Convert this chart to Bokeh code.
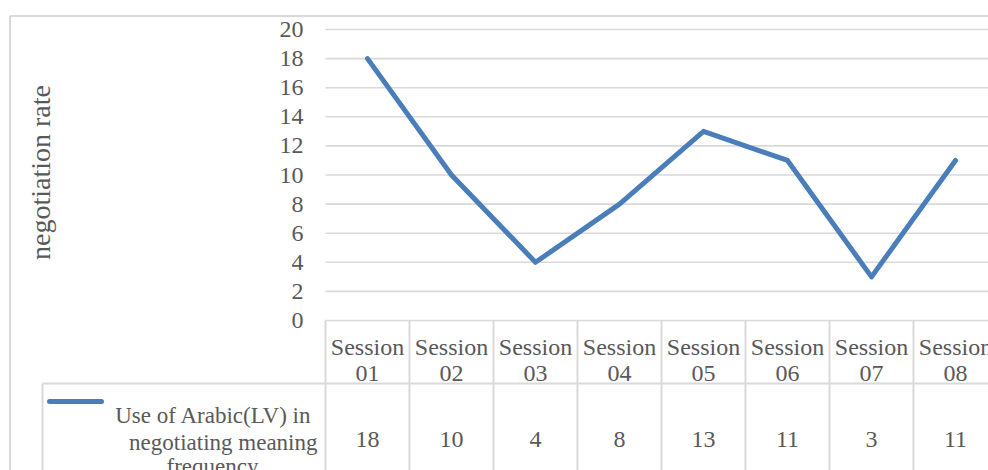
from bokeh.plotting import figure
from bokeh.models import Range1d
from bokeh.core.properties import value
from bokeh.embed import file_html
from bokeh.resources import INLINE

# ---------------- data ----------------
categories = ["Session 01", "Session 02", "Session 03", "Session 04",
              "Session 05", "Session 06", "Session 07", "Session 08"]
values = [18, 10, 4, 8, 13, 11, 3, 11]
y_ticks = [0, 2, 4, 6, 8, 10, 12, 14, 16, 18, 20]
series_label_lines = ["Use of Arabic(LV)  in", "negotiating meaning", "frequency"]
y_title = "negotiation rate"

# ---------------- layout helpers (page pixels -> data space) ----------------
W, H = 988, 470
X0, COL = 325.0, 84.0      # left edge of plot area / category width (page px)
Y0, UNIT = 320.0, 14.55    # baseline of value 0 / px per unit (page px)

def dx(px):
    return (px - X0) / COL

def dy(py):
    return (Y0 - py) / UNIT

FONT = value("Liberation Serif")
TXT = "#595959"
GRID = "#d9d9d9"
BLUE = "#4a7ebb"

p = figure(width=W, height=H, output_backend="svg", toolbar_location=None,
           x_range=Range1d(dx(0), dx(W)), y_range=Range1d(dy(H), dy(0)),
           x_axis_type=None, y_axis_type=None, min_border=0,
           outline_line_color=None, background_fill_color="white",
           border_fill_color="white")

# chart outer border (left + top visible)
p.segment(x0=[dx(9.5), dx(9.5)], y0=[dy(15.5), dy(15.5)],
          x1=[dx(9.5), dx(1000)], y1=[dy(480), dy(15.5)],
          line_color=GRID, line_width=2)

# horizontal gridlines
p.segment(x0=[dx(325)] * len(y_ticks), x1=[dx(1000)] * len(y_ticks),
          y0=y_ticks, y1=y_ticks, line_color=GRID, line_width=1.6)

# y tick labels
p.text(x=[dx(303)] * len(y_ticks), y=y_ticks, text=[str(t) for t in y_ticks],
       text_align="right", text_baseline="middle", text_font=FONT,
       text_font_size=value("24px"), text_color=TXT)

# y axis title
p.text(x=[dx(40)], y=[dy(172)], text=[y_title], angle=1.5707963,
       text_align="center", text_baseline="alphabetic", text_font=FONT,
       text_font_size=value("28px"), text_color=TXT)

# data table grid
n = len(categories)
vx = [dx(X0 + COL * k) for k in range(n + 1)]
p.segment(x0=vx, x1=vx, y0=[dy(320)] * (n + 1), y1=[dy(480)] * (n + 1),
          line_color=GRID, line_width=2)
p.segment(x0=[dx(42)], x1=[dx(1000)], y0=[dy(383)], y1=[dy(383)],
          line_color=GRID, line_width=2)
p.segment(x0=[dx(42)], x1=[dx(42)], y0=[dy(383)], y1=[dy(480)],
          line_color=GRID, line_width=2)

# category labels (two lines each)
cx = [k + 0.5 for k in range(n)]
p.text(x=cx, y=[dy(346)] * n, text=[c.split(" ")[0] for c in categories],
       text_align="center", text_baseline="alphabetic", text_font=FONT,
       text_font_size=value("24px"), text_color=TXT)
p.text(x=cx, y=[dy(373)] * n, text=[c.split(" ")[1] for c in categories],
       text_align="center", text_baseline="alphabetic", text_font=FONT,
       text_font_size=value("24px"), text_color=TXT)

# values row
p.text(x=cx, y=[dy(439)] * n, text=[str(v) for v in values],
       text_align="center", text_baseline="alphabetic", text_font=FONT,
       text_font_size=value("24px"), text_color=TXT)

# legend key + series label
p.line(x=[dx(49), dx(101)], y=[dy(401), dy(401)], line_color=BLUE,
       line_width=5, line_cap="round")
p.text(x=[dx(317), dx(317)], y=[dy(415), dy(442)], text=series_label_lines[:2],
       text_align="right", text_baseline="alphabetic", text_font=FONT,
       text_font_size=value("23px"), text_color=TXT)
p.text(x=[dx(212)], y=[dy(466)], text=series_label_lines[2:],
       text_align="center", text_baseline="alphabetic", text_font=FONT,
       text_font_size=value("23px"), text_color=TXT)

# the series line
p.line(x=cx, y=values, line_color=BLUE, line_width=5, line_join="round",
       line_cap="round")

open("out.html", "w").write(file_html(p, INLINE))
